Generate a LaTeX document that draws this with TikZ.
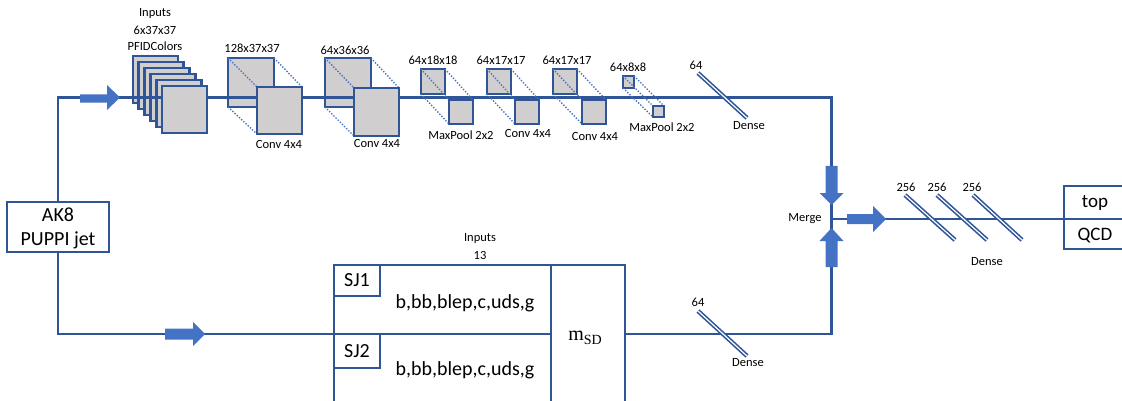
\documentclass[tikz,border=0pt]{standalone}
\usepackage{fontspec}
\setmainfont{Carlito}
\newfontfamily\seriffont{Liberation Serif}
\definecolor{lineblue}{HTML}{2F5597}
\definecolor{arrowblue}{HTML}{4472C4}
\definecolor{boxgray}{HTML}{D0CECE}
\newcommand\sqn[5]{\node[sq, minimum width={(#4)-(#2)}, minimum height={(#5)-(#3)}] (#1) at ({((#2)+(#4))/2},{((#3)+(#5))/2}) {};}
\begin{document}
\begin{tikzpicture}[x=1pt,y=-1pt,
  line/.style={draw=lineblue, line width=2.4pt},
  sq/.style={draw=lineblue, fill=boxgray, line width=2.8pt, inner sep=0pt, outer sep=0pt},
  dots/.style={draw=arrowblue, dash pattern=on 1.3pt off 1.7pt, line width=1.4pt},
  barrow/.style={fill=arrowblue, draw=none},
  dense/.style={draw=lineblue, double=white, double distance=1.2pt, line width=1.6pt},
  lbl/.style={font=\fontsize{12.5}{14}\selectfont, inner sep=0pt},
  big/.style={font=\fontsize{20}{24}\selectfont, inner sep=0pt},
  box/.style={draw=lineblue, line width=2.6pt, fill=white, inner sep=0pt, outer sep=0pt},
]
\useasboundingbox (0,0) rectangle (1122,401);

% coordinates
\coordinate (tr) at (831.5,97.5);
\coordinate (mg) at (831.5,219);
\coordinate (bin) at (334,334);
\coordinate (bout) at (625,334);
\coordinate (outin) at (1065,219);

% AK8 box
\node[box, minimum width=102, minimum height=50] (ak) at (58,227) {};
\node[big] (akt1) at (58,215) {AK8};
\node[big] (akt2) at (58,240) {PUPPI jet};

% input stack (all but front)
\foreach \i in {0,...,4} {
  \pgfmathsetmacro\xa{133+5.8*\i}
  \pgfmathsetmacro\ya{56+6*\i}
  \sqn{s\i}{\xa}{\ya}{\xa+45}{\ya+47}
}
% back squares
\sqn{b1}{228}{58}{274}{107}
\sqn{b2}{325}{58}{371}{107}
\sqn{b3}{421}{69}{445}{94}
\sqn{b4}{487}{69}{511}{94}
\sqn{b5}{553}{69}{577}{94}
\sqn{b6}{623}{76}{634}{88}

% main top line
\draw[line] (ak.north) |- (tr) -- (mg);
% bottom line
\draw[line] (ak.south) |- (bin);
\draw[line] (bout) -| (mg);
% output line
\draw[line] (mg) -- (outin);

% front squares
\sqn{s5}{162}{86}{207}{133}
\foreach \n/\fx/\fy/\fxx/\fyy in {1/257/87/302/134, 2/354/88/399/136, 3/449/100/473/124, 4/515/100/539/124, 5/582/100/606/124, 6/653/106/664/117} {
  \draw[dots] (b\n.north west) -- (\fx,\fy);
  \draw[dots] (b\n.north east) -- (\fxx,\fy);
  \draw[dots] (b\n.south west) -- (\fx,\fyy);
  \sqn{f\n}{\fx}{\fy}{\fxx}{\fyy}
}

% labels top
\node[lbl] (l1) at (155,13) {Inputs};
\node[lbl] (l2) at (155,30) {6x37x37};
\node[lbl] (l3) at (155,46) {PFIDColors};
\node[lbl] (lb1) at (252,48) {128x37x37};
\node[lbl] (lf1) at (279,144) {Conv 4x4};
\node[lbl] (lb2) at (345,50) {64x36x36};
\node[lbl] (lf2) at (377,143) {Conv 4x4};
\node[lbl] (lb3) at (433,60) {64x18x18};
\node[lbl] (lf3) at (461,135) {MaxPool 2x2};
\node[lbl] (lb4) at (501,60) {64x17x17};
\node[lbl] (lf4) at (528,133) {Conv 4x4};
\node[lbl] (lb5) at (567,60) {64x17x17};
\node[lbl] (lf5) at (595,136) {Conv 4x4};
\node[lbl] (lb6) at (628,67) {64x8x8};
\node[lbl] (lf6) at (662,127) {MaxPool 2x2};

% dense slashes
\draw[dense] (698,73) -- (747,118);
\node[lbl] (d1a) at (696,65) {64};
\node[lbl] (d1b) at (749,126) {Dense};
\draw[dense] (698,311) -- (747,356);
\node[lbl] (d2a) at (698,302) {64};
\node[lbl] (d2b) at (748,363) {Dense};
\draw[dense] (905,195) -- (955,240);
\draw[dense] (937,195) -- (987,240);
\draw[dense] (973,195) -- (1022,240);
\node[lbl] (d3a) at (906,187) {256};
\node[lbl] (d3b) at (937,187) {256};
\node[lbl] (d3c) at (972,187) {256};
\node[lbl] (d3d) at (987,262) {Dense};

% block arrows
\fill[barrow] (80,94.3) -- (107,94.3) -- (107,85) -- (120,97.5) -- (107,110) -- (107,102.7) -- (80,102.7) -- cycle;
\fill[barrow] (165,328.5) -- (193,328.5) -- (193,322) -- (205,334) -- (193,346) -- (193,339.5) -- (165,339.5) -- cycle;
\fill[barrow] (825.5,166) -- (837.5,166) -- (837.5,193) -- (843.5,193) -- (831.5,205) -- (819.5,193) -- (825.5,193) -- cycle;
\fill[barrow] (825.5,267) -- (837.5,267) -- (837.5,241) -- (843.5,241) -- (831.5,228) -- (819.5,241) -- (825.5,241) -- cycle;
\fill[barrow] (847,214) -- (873,214) -- (873,206) -- (886,219) -- (873,232) -- (873,224) -- (847,224) -- cycle;
\node[lbl] (mlab) at (805,219) {Merge};

% output box
\draw[line, line width=2.6pt] (1125,186) -- (1064,186) -- (1064,249) -- (1125,249);
\draw[line] (outin) -- (1125,219);
\node[font=\fontsize{19}{22}\selectfont, inner sep=0pt] (otop) at (1095,203) {top};
\node[font=\fontsize{19}{22}\selectfont, inner sep=0pt] (oqcd) at (1095,236) {QCD};

% bottom input box
\draw[line, line width=2.6pt] (334,405) -- (334,265) -- (625,265) -- (625,405);
\draw[line, line width=2.6pt] (551,265) -- (551,405);
\draw[line, line width=2.6pt] (bin) -- (551,334);
\node[box, minimum width=46, minimum height=31, anchor=north west] (sj1) at (334,265) {};
\node[big] at (sj1.center) {SJ1};
\node[box, minimum width=46, minimum height=34, anchor=north west] (sj2) at (334,334) {};
\node[big] at (sj2.center) {SJ2};
\node[big] (fl1) at (465,303) {b,bb,blep,c,uds,g};
\node[big] (fl2) at (465,370) {b,bb,blep,c,uds,g};
\node[big, font=\seriffont\fontsize{20}{24}\selectfont] (msd) at (585,338) {m\raisebox{-4pt}{\fontsize{14}{14}\selectfont SD}};
\node[lbl] (in2a) at (480,238) {Inputs};
\node[lbl] (in2b) at (480,255) {13};
\end{tikzpicture}
\end{document}
